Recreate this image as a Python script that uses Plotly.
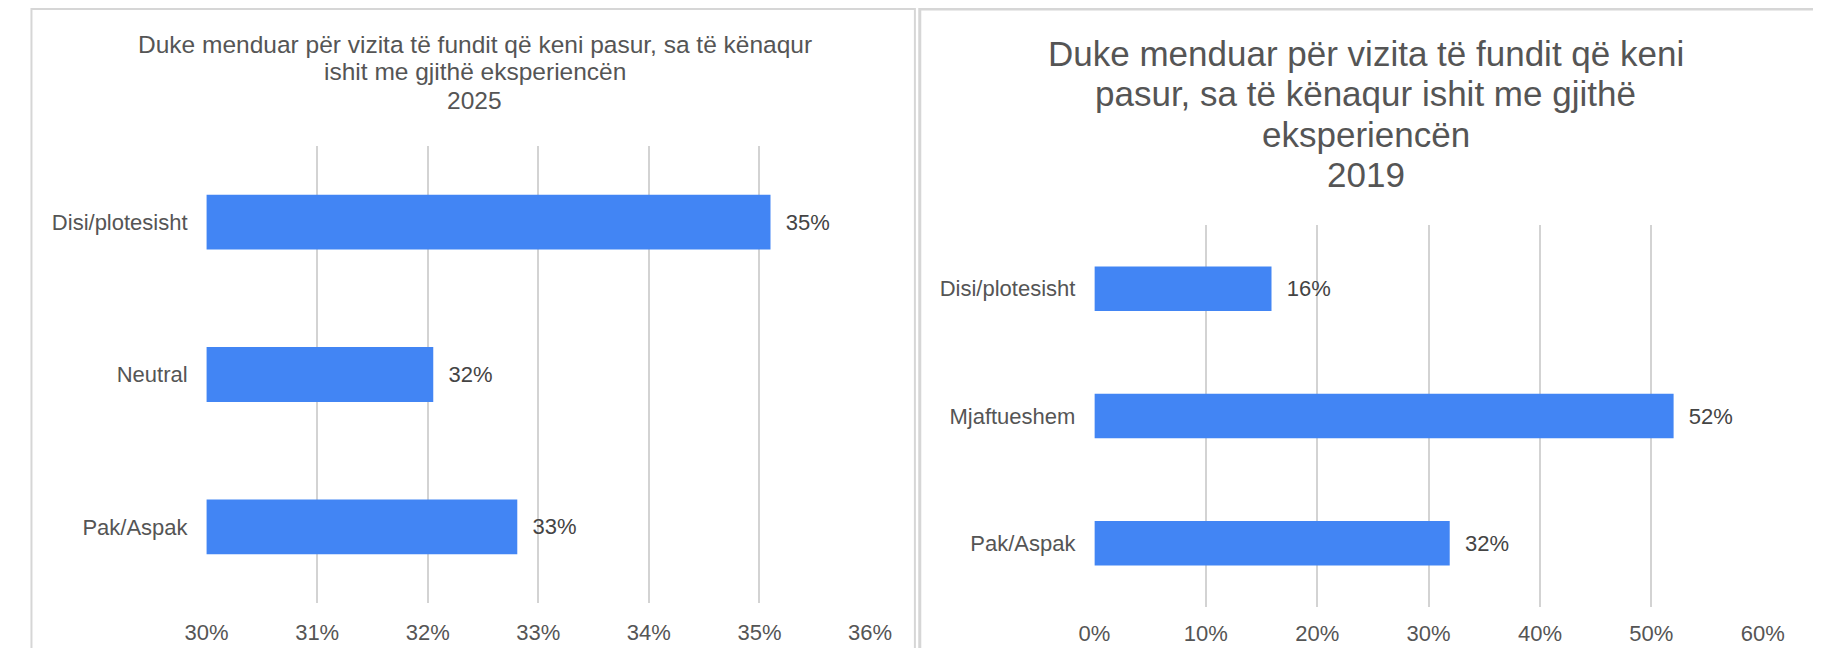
import plotly.graph_objects as go

# ---- data ----
cats_2025 = ["Disi/plotesisht", "Neutral", "Pak/Aspak"]
vals_2025 = [35.1, 32.05, 32.81]
cats_2019 = ["Disi/plotesisht", "Mjaftueshem", "Pak/Aspak"]
vals_2019 = [15.9, 52.0, 31.9]
title_2025 = ["Duke menduar për vizita të fundit që keni pasur, sa të kënaqur",
              "ishit me gjithë eksperiencën", "2025"]
title_2019 = ["Duke menduar për vizita të fundit që keni",
              "pasur, sa të kënaqur ishit me gjithë", "eksperiencën", "2019"]

# page is 1821x656; default body margin of 8px -> figure 1805x640 fits exactly
OFF = 8
W, H = 1821 - 2 * OFF, 656 - 2 * OFF
FONT = "Arial, Liberation Sans, sans-serif"
BLUE = "#4285F4"
TXT = "#555555"
GRID = "#d3d3d3"
NB = "\u00a0\u00a0"

fig = go.Figure()
fig.add_trace(go.Bar(x=vals_2025, y=cats_2025, orientation="h", marker_color=BLUE,
                     marker_line_width=0, width=0.36, xaxis="x", yaxis="y",
                     texttemplate=NB + "%{x:.0f}%", textposition="outside",
                     textfont=dict(size=22, color="#444444", family=FONT),
                     showlegend=False, hoverinfo="skip"))
fig.add_trace(go.Bar(x=vals_2019, y=cats_2019, orientation="h", marker_color=BLUE,
                     marker_line_width=0, width=0.35, xaxis="x2", yaxis="y2",
                     texttemplate=NB + "%{x:.0f}%", textposition="outside",
                     textfont=dict(size=22, color="#444444", family=FONT),
                     showlegend=False, hoverinfo="skip"))

def px_x(p):
    return (p - OFF) / W

def px_y(p):
    return 1 - (p - OFF) / H

axis_font = dict(size=22, color=TXT, family=FONT)

fig.update_layout(
    width=W, height=H, autosize=False,
    margin=dict(l=0, r=0, t=0, b=0),
    paper_bgcolor="white", plot_bgcolor="white",
    font=dict(family=FONT, color=TXT),
    xaxis=dict(domain=[px_x(189), px_x(869)], range=[30, 36], dtick=1, ticksuffix="%",
               showgrid=True, gridcolor=GRID, gridwidth=1.5, zeroline=False, showline=False,
               tickfont=axis_font, ticklabelstandoff=14, anchor="y"),
    yaxis=dict(domain=[px_y(603), px_y(146)], autorange="reversed", showgrid=False,
               zeroline=False, showline=False, tickfont=axis_font, ticklabelstandoff=18,
               anchor="x"),
    xaxis2=dict(domain=[px_x(1099), px_x(1784)], range=[0, 60], dtick=10, ticksuffix="%",
                showgrid=True, gridcolor=GRID, gridwidth=1.5, zeroline=False, showline=False,
                tickfont=axis_font, ticklabelstandoff=11, anchor="y2"),
    yaxis2=dict(domain=[px_y(607), px_y(225)], autorange="reversed", showgrid=False,
                zeroline=False, showline=False, tickfont=axis_font, ticklabelstandoff=18,
                anchor="x2"),
)

# panel borders
fig.add_shape(type="rect", xref="paper", yref="paper", x0=px_x(9.5), x1=px_x(915),
              y0=-0.05, y1=px_y(9), line=dict(color="#d6d6d6", width=2), layer="below")
fig.add_shape(type="rect", xref="paper", yref="paper", x0=px_x(920), x1=1.05,
              y0=-0.05, y1=px_y(9), line=dict(color="#d6d6d6", width=3), layer="below")

# titles (one annotation per line for spacing control)
for i, line in enumerate(title_2025):
    fig.add_annotation(x=px_x(464), y=px_y(44 + 28 * i), xref="paper", yref="paper",
                       text=line, showarrow=False, xanchor="center", yanchor="middle",
                       font=dict(size=24.5, color=TXT, family=FONT))
for i, line in enumerate(title_2019):
    fig.add_annotation(x=px_x(1377), y=px_y(53 + 40.5 * i), xref="paper", yref="paper",
                       text=line, showarrow=False, xanchor="center", yanchor="middle",
                       font=dict(size=35, color=TXT, family=FONT))

fig.write_html("out.html", config={"displayModeBar": False})
